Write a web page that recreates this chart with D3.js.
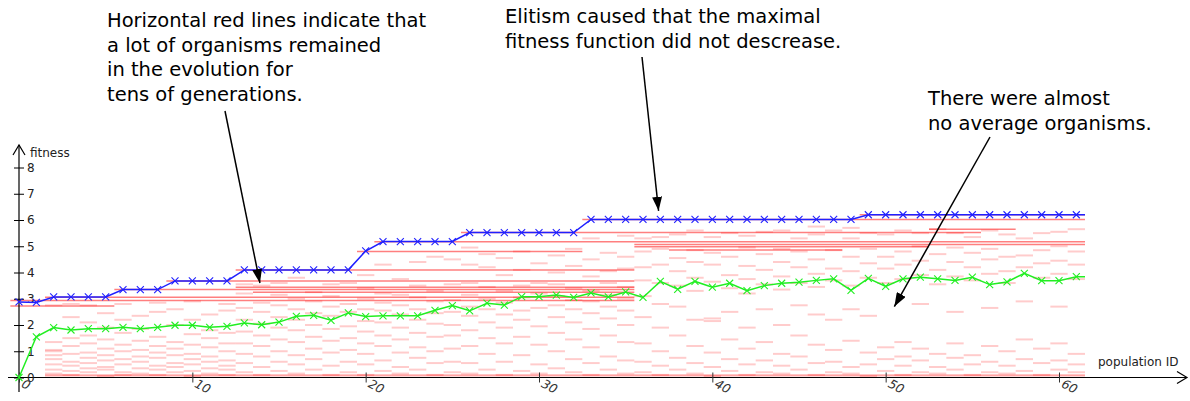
<!DOCTYPE html>
<html><head><meta charset="utf-8">
<script src="https://cdn.jsdelivr.net/npm/d3@7"></script>
<style>
html,body{margin:0;padding:0;background:#fff;}
svg{display:block;font-family:"DejaVu Sans",sans-serif;}
</style></head><body>
<svg id="chart" width="1190" height="401"></svg>
<script>
// ---- data ----
const generations = d3.range(0, 62);
const maxFitness = [2.88,2.86,3.07,3.07,3.07,3.07,3.35,3.35,3.35,3.68,3.68,3.68,3.68,4.1,4.1,4.1,4.1,4.1,4.1,4.1,4.82,5.18,5.18,5.18,5.18,5.18,5.52,5.52,5.52,5.52,5.52,5.52,5.52,6.02,6.02,6.02,6.02,6.02,6.02,6.02,6.02,6.02,6.02,6.02,6.02,6.02,6.02,6.02,6.02,6.2,6.2,6.2,6.2,6.2,6.2,6.2,6.2,6.2,6.2,6.2,6.2,6.2];
const avgFitness = [0,1.55,1.9,1.81,1.86,1.86,1.91,1.86,1.91,1.99,1.99,1.91,1.95,2.08,2.01,2.11,2.33,2.37,2.18,2.46,2.32,2.35,2.35,2.35,2.56,2.74,2.54,2.83,2.76,3.08,3.08,3.14,3.05,3.22,3.07,3.26,3.05,3.66,3.36,3.66,3.44,3.59,3.31,3.5,3.59,3.63,3.7,3.76,3.32,3.78,3.47,3.76,3.82,3.76,3.7,3.82,3.54,3.64,3.97,3.69,3.69,3.84];
// long-lived organisms: [first generation, last generation, fitness]
const longLived = [[0,35,2.93],[2,35,3.06],[6,35,3.35],[9,35,3.68],[13,35,4.1],[13,35,3.44],[14,35,3.25],[20,32,4.8],[21,61,5.17],[26,55,5.52],[33,61,6.02],[36,61,5.07],[36,52,4.98],[38,47,4.86],[49,61,6.2],[53,57,5.65],[0,5,2.72]];
// fitness of the other organisms, generations 2..61
const popFirstGen = 2;
const population = [
[0.08,0.08,0.15,0.3,0.5,0.7,0.85,1.0,1.05,1.35,2.75],
[0.08,0.08,0.1,0.25,0.45,0.6,0.9,1.2,1.5,2.3,2.8],
[0.08,0.08,0.2,0.35,0.55,0.75,0.95,1.3,1.6,2.1,2.75],
[0.08,0.08,0.05,0.3,0.4,0.65,0.85,1.1,1.45,1.9,2.45],
[0.08,0.08,0.1,0.2,0.5,0.7,1.0,1.25,1.7,2.2,2.8],
[0.08,0.08,0.15,0.35,0.6,0.8,1.05,1.4,1.85,2.35],
[0.08,0.08,0.1,0.3,0.45,0.75,0.95,1.2,1.55,2.5,2.85],
[0.08,0.08,0.2,0.4,0.55,0.85,1.1,1.35,2.0,2.6],
[0.08,0.08,0.05,0.25,0.5,0.7,0.9,1.25,1.65,2.2,2.9],
[0.08,0.08,0.15,0.35,0.6,0.8,1.15,1.5,1.8,2.4],
[0.08,0.08,0.1,0.3,0.45,0.65,1.0,1.3,1.7,2.55,2.8],
[0.08,0.08,0.2,0.55,0.9,1.3,1.75,2.2,2.65,3.2,3.55],
[0.08,0.08,0.1,0.4,0.8,1.2,1.6,2.05,2.5,2.85,3.5],
[0.08,0.08,0.25,0.6,1.0,1.45,1.9,2.3,2.75,3.15,3.6],
[0.08,0.08,0.15,0.5,0.85,1.35,1.8,2.2,2.6,3.0,3.8],
[0.08,0.08,0.3,0.7,1.1,1.55,2.0,2.45,2.9,3.25],
[0.08,0.08,0.1,0.45,0.95,1.4,1.85,2.35,2.7,3.1,3.55],
[0.08,0.08,0.2,0.6,1.05,1.5,1.95,2.5,2.8,3.6],
[0.08,0.08,0.1,0.5,0.9,1.3,1.75,2.15,2.6,3.0,3.4,3.9],
[0.08,0.08,0.25,0.65,1.2,1.6,2.1,2.55,2.85,3.2,4.3],
[0.08,0.08,0.15,0.4,0.95,1.45,1.9,2.4,2.75,3.15,3.75],
[0.08,0.08,0.3,0.75,1.15,1.7,2.2,2.6,3.05,3.5,4.4],
[0.08,0.08,0.1,0.55,1.0,1.55,2.05,2.45,2.9,3.3,4.6],
[0.08,0.08,0.2,0.6,1.1,1.6,2.0,2.5,2.95,3.55,4.5],
[0.08,0.08,0.15,0.55,1.2,1.8,2.35,2.7,3.15,3.6,4.3,4.95],
[0.08,0.08,0.3,0.9,1.5,2.1,2.6,3.0,3.45,4.2,4.7],
[0.08,0.08,0.1,0.6,1.3,1.9,2.4,2.85,3.3,3.9,4.55],
[0.08,0.08,0.25,0.85,1.55,2.2,2.55,3.05,3.5,4.1,4.8],
[0.08,0.08,0.15,0.5,1.25,1.95,2.65,3.2,3.6,4.35],
[0.08,0.08,0.35,1.0,1.7,2.3,2.75,3.1,3.55,4.0,4.65],
[0.08,0.08,0.2,0.7,1.45,2.1,2.6,2.95,3.4,4.25,4.9],
[0.08,0.08,0.1,0.55,1.15,1.85,2.45,2.9,3.3,3.85,4.5,5.3],
[0.08,0.08,0.3,0.8,1.6,2.25,2.7,3.15,3.6,4.05,4.75],
[0.08,0.08,0.15,0.65,1.35,2.0,2.55,3.0,3.45,4.15,4.6,5.4],
[0.08,0.08,0.2,0.6,1.3,2.3,3.1,3.7,4.2,4.8,5.3],
[0.08,0.08,0.1,0.45,1.0,1.9,2.8,3.6,4.3,4.9,5.35],
[0.08,0.08,0.3,0.75,1.6,2.7,3.5,4.05,4.55,5.45],
[0.08,0.08,0.15,0.55,1.2,2.2,3.3,3.8,4.4,4.85,5.6],
[0.08,0.08,0.05,0.4,0.95,2.15,2.25,3.65,4.3,4.75,5.35],
[0.08,0.08,0.25,0.7,1.45,2.5,3.4,3.9,4.6,5.5],
[0.08,0.08,0.1,0.5,1.1,1.9,3.2,3.75,4.25,4.95,5.4],
[0.08,0.08,0.2,0.65,1.35,2.6,3.55,4.1,4.7,5.55],
[0.08,0.08,0.15,0.45,0.9,2.0,3.35,3.85,4.4,4.9,5.6],
[0.08,0.08,0.3,0.8,1.6,2.75,3.6,4.2,4.8,5.3],
[0.08,0.08,0.1,0.55,1.25,2.4,3.45,3.95,4.5,5.45,5.75],
[0.08,0.08,0.2,0.6,1.05,2.2,3.7,4.15,4.85,5.6],
[0.08,0.08,0.15,0.4,1.4,2.6,3.5,4.05,4.6,5.3,5.7],
[0.08,0.08,0.05,0.5,0.95,2.35,3.8,4.35,4.9,5.5],
[0.08,0.08,0.25,0.7,1.15,3.6,4.15,4.6,5.45],
[0.08,0.08,0.1,0.45,0.8,1.35,3.75,4.3,4.8,5.6],
[0.08,0.08,0.2,0.65,1.1,2.8,3.9,4.45,5.0,5.5],
[0.08,0.08,0.15,0.4,0.9,3.55,4.1,4.7,5.65],
[0.08,0.08,0.3,0.75,1.3,2.5,3.85,4.4,4.95,5.5],
[0.08,0.08,0.1,0.5,0.85,3.7,4.2,4.75,5.35],
[0.08,0.08,0.2,0.6,1.2,2.65,3.95,4.5,4.9,5.6],
[0.08,0.08,0.15,0.45,1.0,3.6,4.05,4.6,5.45],
[0.08,0.08,0.25,0.7,1.45,2.9,4.2,4.65,5.3],
[0.08,0.08,0.1,0.55,1.1,3.8,4.35,4.85,5.5],
[0.08,0.08,0.3,0.65,1.3,2.7,3.95,4.45,5.0,5.55],
[0.08,0.08,0.2,0.5,0.9,3.75,4.3,4.8,5.65]
];
const yTicks = [0,1,2,3,4,5,6,7,8];
const xTicks = [0,10,20,30,40,50,60];
const yTitle = "fitness";
const xTitle = "population ID";
const notes = [
  {lines:["Horizontal red lines indicate that","a lot of organisms remained","in the evolution for","tens of generations."], gen:13.9, fit:3.6},
  {lines:["Elitism caused that the maximal","fitness function did not descrease."], gen:36.9, fit:6.35},
  {lines:["There were almost","no average organisms."], gen:50.5, fit:2.7}
];

// ---- drawing ----
const svg = d3.select("#chart");
const x = d3.scaleLinear().domain([0, 60]).range([19, 1059]);
const y = d3.scaleLinear().domain([0, 8]).range([377.5, 167.5]);

svg.append("rect").attr("width",1190).attr("height",401).attr("fill","#fff");

// population marks
const marks = svg.append("g");
population.forEach((vals, i) => {
  const g = popFirstGen + i;
  marks.selectAll(null).data(vals).enter().append("line")
    .attr("x1", x(g - 0.5)).attr("x2", x(g + 0.5))
    .attr("y1", d => y(d)).attr("y2", d => y(d))
    .attr("stroke", "#ff0000").attr("stroke-opacity", 0.2).attr("stroke-width", 2);
});
marks.selectAll(null).data(longLived).enter().append("line")
  .attr("x1", d => x(d[0] - 0.5)).attr("x2", d => x(d[1] + 0.5))
  .attr("y1", d => y(d[2])).attr("y2", d => y(d[2]))
  .attr("stroke", "#ff0000").attr("stroke-opacity", 0.5).attr("stroke-width", 1.5);

// axes
const ax = svg.append("g").attr("stroke","#000").attr("fill","none").attr("stroke-width",1.2);
ax.append("line").attr("x1", x(0)).attr("x2", x(0)).attr("y1", 392).attr("y2", 145);
ax.append("path").attr("d", `M${x(0)-6},155 L${x(0)},145 L${x(0)+6},155`);
ax.append("line").attr("x1", 8).attr("x2", 1187).attr("y1", y(0)).attr("y2", y(0));
ax.append("path").attr("d", `M1177,${y(0)-6} L1187,${y(0)} L1177,${y(0)+6}`);

const yAxis = svg.append("g").attr("transform", `translate(${x(0)},0)`)
  .call(d3.axisLeft(y).tickValues(yTicks).tickFormat(d3.format("d")).tickSizeOuter(0));
yAxis.select(".domain").remove();
yAxis.selectAll(".tick line").attr("x1", -5).attr("x2", 5).attr("stroke","#000");
yAxis.selectAll(".tick text").attr("x", 8).attr("text-anchor","start")
  .attr("font-family","DejaVu Sans").attr("font-size", 12).attr("fill","#222");

const xAxis = svg.append("g").attr("transform", `translate(0,${y(0)})`)
  .call(d3.axisBottom(x).tickValues(xTicks).tickFormat(d3.format("d")).tickSizeOuter(0));
xAxis.select(".domain").remove();
xAxis.selectAll(".tick line").attr("y1", -5).attr("y2", 5).attr("stroke","#333");
xAxis.selectAll(".tick text").attr("y", 0).attr("dy", 0)
  .attr("transform","translate(1,9) rotate(28)").attr("text-anchor","start")
  .attr("font-family","DejaVu Sans").attr("font-size", 12.5).attr("fill","#333")
  .attr("font-style","italic");

svg.append("text").attr("x", 30).attr("y", 157).text(yTitle)
  .attr("font-size", 12).attr("fill","#222");
svg.append("text").attr("x", 1098).attr("y", 366).text(xTitle)
  .attr("font-size", 12).attr("fill","#222");

// series lines
function series(vals, color) {
  const pts = vals.map((v, i) => [generations[i], v]);
  const last = pts[pts.length - 1];
  const ext = pts.concat([[last[0] + 0.5, last[1]]]);
  svg.append("path").datum(ext)
    .attr("d", d3.line().x(d => x(d[0])).y(d => y(d[1])))
    .attr("fill","none").attr("stroke", color).attr("stroke-width", 1.5);
  const s = 3.5;
  svg.append("g").selectAll("path").data(pts).enter().append("path")
    .attr("d", d => `M${x(d[0])-s},${y(d[1])-s}L${x(d[0])+s},${y(d[1])+s}M${x(d[0])-s},${y(d[1])+s}L${x(d[0])+s},${y(d[1])-s}`)
    .attr("stroke", color).attr("stroke-width", 1.1).attr("fill","none");
}
series(avgFitness, "#22ee22");
series(maxFitness, "#2020ff");

// annotations
const defs = svg.append("defs");
defs.append("marker").attr("id","ah").attr("viewBox","0 0 14 10").attr("refX",14).attr("refY",5)
  .attr("markerWidth",14).attr("markerHeight",10).attr("markerUnits","userSpaceOnUse")
  .attr("orient","auto").append("path").attr("d","M0,0 L14,5 L0,10 Z").attr("fill","#000");

const textPos = [[107, 27], [505, 23], [928, 105]];
const arrowStart = [[225, 111], [642, 57], [990, 137]];
notes.forEach((n, i) => {
  const t = svg.append("text").attr("x", textPos[i][0]).attr("y", textPos[i][1])
    .attr("font-size", 19.5).attr("fill","#000");
  n.lines.forEach((l, j) => t.append("tspan").attr("x", textPos[i][0]).attr("dy", j ? 24.5 : 0).text(l));
  svg.append("line").attr("x1", arrowStart[i][0]).attr("y1", arrowStart[i][1])
    .attr("x2", x(n.gen)).attr("y2", y(n.fit))
    .attr("stroke","#000").attr("stroke-width",1.5).attr("marker-end","url(#ah)");
});
</script></body></html>
